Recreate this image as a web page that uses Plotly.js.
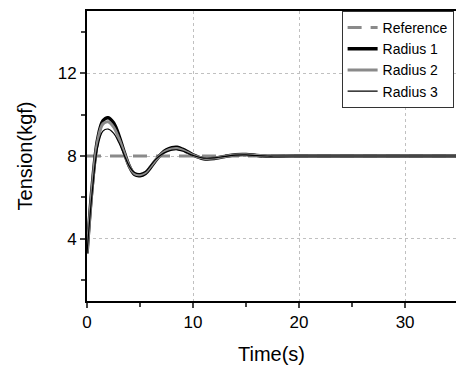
<!DOCTYPE html>
<html>
<head>
<meta charset="utf-8">
<script src="https://cdn.plot.ly/plotly-3.0.1.min.js"></script>
<style>html,body{margin:0;padding:0;background:#fff;}#chart{width:456px;height:365px;}</style>
</head>
<body>
<div id="chart"></div>
<script>
var time = [0,0.5,1,1.5,2,2.5,3,3.5,4,4.5,5,5.5,6,6.5,7,7.5,8,8.5,9,9.5,10,11,12,13,14,15,16,17,18,20,22,25,30,35];
var reference = [8,8,8,8,8,8,8,8,8,8,8,8,8,8,8,8,8,8,8,8,8,8,8,8,8,8,8,8,8,8,8,8,8,8];
var radius1 = [3.3,6.6,8.8,9.7,9.85,9.6,9.0,8.2,7.5,7.1,7.05,7.15,7.45,7.8,8.1,8.3,8.4,8.42,8.33,8.2,8.05,7.87,7.88,7.98,8.06,8.07,8.03,7.99,7.99,8.0,8.0,8.0,8.0,8.0];
var radius2 = [3.3,6.5,8.7,9.55,9.65,9.4,8.85,8.15,7.5,7.15,7.1,7.2,7.5,7.82,8.08,8.25,8.34,8.36,8.28,8.16,8.04,7.89,7.9,7.98,8.05,8.06,8.03,8.0,8.0,8.0,8.0,8.0,8.0,8.0];
var radius3 = [3.3,6.3,8.4,9.2,9.3,9.1,8.65,8.05,7.5,7.2,7.15,7.25,7.55,7.85,8.06,8.2,8.28,8.3,8.24,8.13,8.03,7.9,7.91,7.98,8.04,8.05,8.02,8.0,8.0,8.0,8.0,8.0,8.0,8.0];
var names = ['Reference','Radius 1','Radius 2','Radius 3'];

var traces = [
  {x: time, y: reference, name: names[0], mode: 'lines', line: {color: '#8a8a8a', width: 3, dash: '14px,9px'}},
  {x: time, y: radius1, name: names[1], mode: 'lines', line: {color: '#000', width: 3.5, shape: 'spline'}},
  {x: time, y: radius2, name: names[2], mode: 'lines', line: {color: '#8a8a8a', width: 3, shape: 'spline'}},
  {x: time, y: radius3, name: names[3], mode: 'lines', line: {color: '#000', width: 1.2, shape: 'spline'}}
];

var layout = {
  width: 456, height: 365,
  margin: {l: 87, r: 0, t: 11, b: 64},
  paper_bgcolor: '#fff', plot_bgcolor: '#fff',
  font: {family: 'Liberation Sans, Arial, sans-serif', size: 17, color: '#000'},
  showlegend: true,
  legend: {x: 0.69, y: 1.0, xanchor: 'left', yanchor: 'top', bgcolor: '#fff', bordercolor: '#333', borderwidth: 1,
           font: {size: 14}, tracegroupgap: 0, itemwidth: 30},
  xaxis: {
    range: [0, 34.8], dtick: 10, tick0: 0, ticks: 'outside', ticklen: 5, tickwidth: 2,
    showline: true, linecolor: '#000', linewidth: 2, mirror: true, zeroline: false,
    showgrid: true, gridcolor: '#c0c0c0', griddash: 'dot', gridwidth: 1,
    minor: {dtick: 5, ticks: 'outside', ticklen: 4, tickwidth: 2, showgrid: false},
    title: {text: 'Time(s)', font: {size: 20}, standoff: 16}
  },
  yaxis: {
    range: [1, 15], dtick: 4, tick0: 0, ticks: 'outside', ticklen: 5, tickwidth: 2,
    showline: true, linecolor: '#000', linewidth: 2, zeroline: false,
    showgrid: true, gridcolor: '#c0c0c0', griddash: 'dot', gridwidth: 1,
    minor: {dtick: 2, ticks: 'outside', ticklen: 4, tickwidth: 2, showgrid: false},
    title: {text: 'Tension(kgf)', font: {size: 20}, standoff: 20}
  }
};

Plotly.newPlot('chart', traces, layout, {displayModeBar: false, staticPlot: true});
</script>
</body>
</html>
